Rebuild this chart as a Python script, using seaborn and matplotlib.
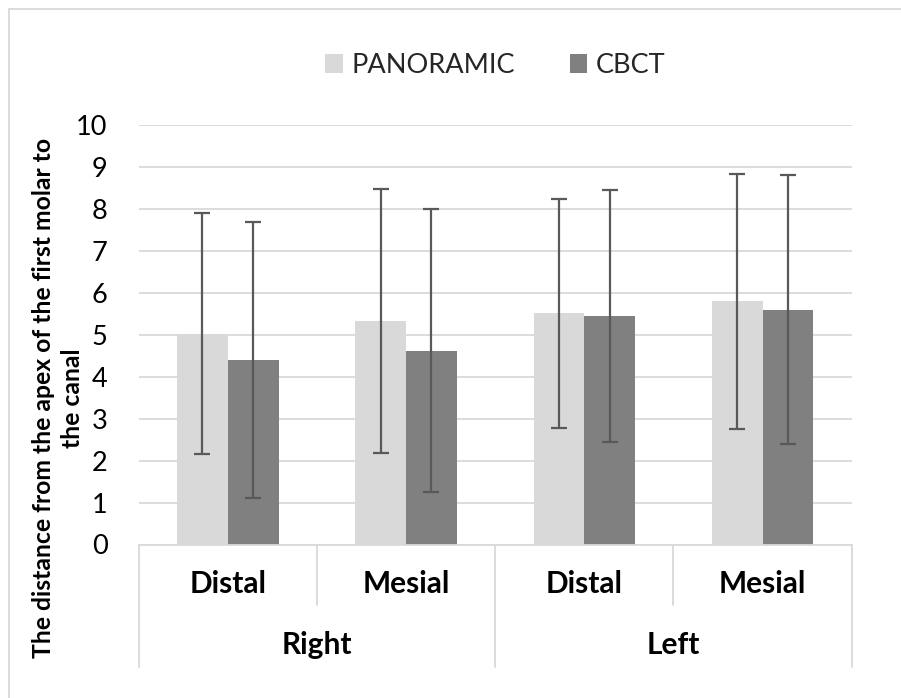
import matplotlib
matplotlib.use("Agg")
import matplotlib.pyplot as plt
import matplotlib.transforms as mtransforms
from matplotlib.patches import Rectangle, Patch
import seaborn as sns
import pandas as pd

# ---------------- data ----------------
sides = ["Right", "Right", "Left", "Left"]
surfaces = ["Distal", "Mesial", "Distal", "Mesial"]
methods = ["PANORAMIC", "CBCT"]
panoramic_mean = [5.02, 5.32, 5.51, 5.79]
panoramic_sd = [2.87, 3.14, 2.73, 3.04]
cbct_mean = [4.40, 4.62, 5.44, 5.59]
cbct_sd = [3.29, 3.36, 3.00, 3.20]
y_ticks = [0, 1, 2, 3, 4, 5, 6, 7, 8, 9, 10]
y_label = "The distance from the apex of the first molar to\nthe canal"
colors = ["#D9D9D9", "#808080"]

FONT = ["Lato", "DejaVu Sans"]

# ---------------- table ----------------
keys = [f"{s}|{p}" for s, p in zip(sides, surfaces)]
rows = []
for k, m, sd in zip(keys, panoramic_mean, panoramic_sd):
    rows.append({"pos": k, "method": methods[0], "value": m, "sd": sd})
for k, m, sd in zip(keys, cbct_mean, cbct_sd):
    rows.append({"pos": k, "method": methods[1], "value": m, "sd": sd})
df = pd.DataFrame(rows)

sns.set_theme(style="white")
plt.rcParams["font.family"] = FONT

fig = plt.figure(figsize=(9.01, 6.98), dpi=100)
ax = fig.add_axes([138.7 / 901, 1 - 544.5 / 698, 713 / 901, 419.8 / 698])

sns.barplot(data=df, x="pos", y="value", hue="method", order=keys,
            hue_order=methods, palette=colors, width=0.569, saturation=1,
            errorbar=None, legend=False, linewidth=0, ax=ax)

# error bars positioned on the bars drawn by seaborn
for cont, method in zip(ax.containers, methods):
    sub = df[df["method"] == method].set_index("pos").loc[keys]
    xs = [b.get_x() + b.get_width() / 2 for b in cont]
    hs = [b.get_height() for b in cont]
    ax.errorbar(xs, hs, yerr=sub["sd"].values, fmt="none", ecolor="#595959",
                elinewidth=1.6, capsize=6, capthick=1.6, zorder=5)

ax.set_xlim(-0.5, len(keys) - 0.5)
ax.set_ylim(0, 10)
ax.set_yticks(y_ticks)
ax.set_yticklabels([str(t) for t in y_ticks], fontsize=19.5, color="#000000")
ax.tick_params(axis="y", length=0, pad=22.5)
ax.tick_params(axis="x", length=0)
ax.set_xticklabels([])
ax.set_xlabel("")
ax.set_ylabel("")
ax.yaxis.grid(True, color="#D9D9D9", linewidth=1.3)
ax.set_axisbelow(True)
for s in ["left", "right", "top"]:
    ax.spines[s].set_visible(False)
ax.spines["bottom"].set_color("#D9D9D9")
ax.spines["bottom"].set_linewidth(1.3)

# multi-level category axis
trans = mtransforms.blended_transform_factory(ax.transData, ax.transAxes)
inner_bottom = (544.5 - 605) / 419.8
outer_bottom = (544.5 - 666.7) / 419.8
n = len(keys)
for i in range(n + 1):
    xb = i - 0.5
    is_outer = (i == 0 or i == n or sides[i - 1] != sides[i])
    ax.plot([xb, xb], [0, outer_bottom if is_outer else inner_bottom],
            transform=trans, color="#D9D9D9", lw=1.3, clip_on=False)
for i, p in enumerate(surfaces):
    ax.text(i, (544.5 - 584) / 419.8, p, transform=trans, ha="center",
            va="center", fontsize=21.5, fontweight="bold", color="#000000")
seen = []
for s in sides:
    if s not in seen:
        seen.append(s)
for s in seen:
    idx = [i for i, v in enumerate(sides) if v == s]
    ax.text((idx[0] + idx[-1]) / 2, (544.5 - 645) / 419.8, s, transform=trans,
            ha="center", va="center", fontsize=21.5, fontweight="bold",
            color="#000000")

# y label
fig.text(58 / 901, 1 - 398 / 698, y_label, rotation=90, ha="center",
         va="center", fontsize=17.8, fontweight="bold", linespacing=1.3,
         multialignment="center", color="#000000")

# legend
handles = [Patch(facecolor=c, edgecolor="none") for c in colors]
fig.legend(handles, methods, loc="center", bbox_to_anchor=(495.5 / 901, 1 - 65.5 / 698),
           ncol=2, frameon=False, fontsize=19.5, handlelength=0.65, handleheight=0.65,
           handletextpad=0.33, columnspacing=2.0, borderaxespad=0)

# chart-area border
fig.patches.append(Rectangle((8.5 / 901, -0.05), 1.2, 1 - 9 / 698 + 0.05,
                             transform=fig.transFigure, fill=False,
                             edgecolor="#D9D9D9", lw=1.3))

fig.savefig("out.png", dpi=100, facecolor="white")
